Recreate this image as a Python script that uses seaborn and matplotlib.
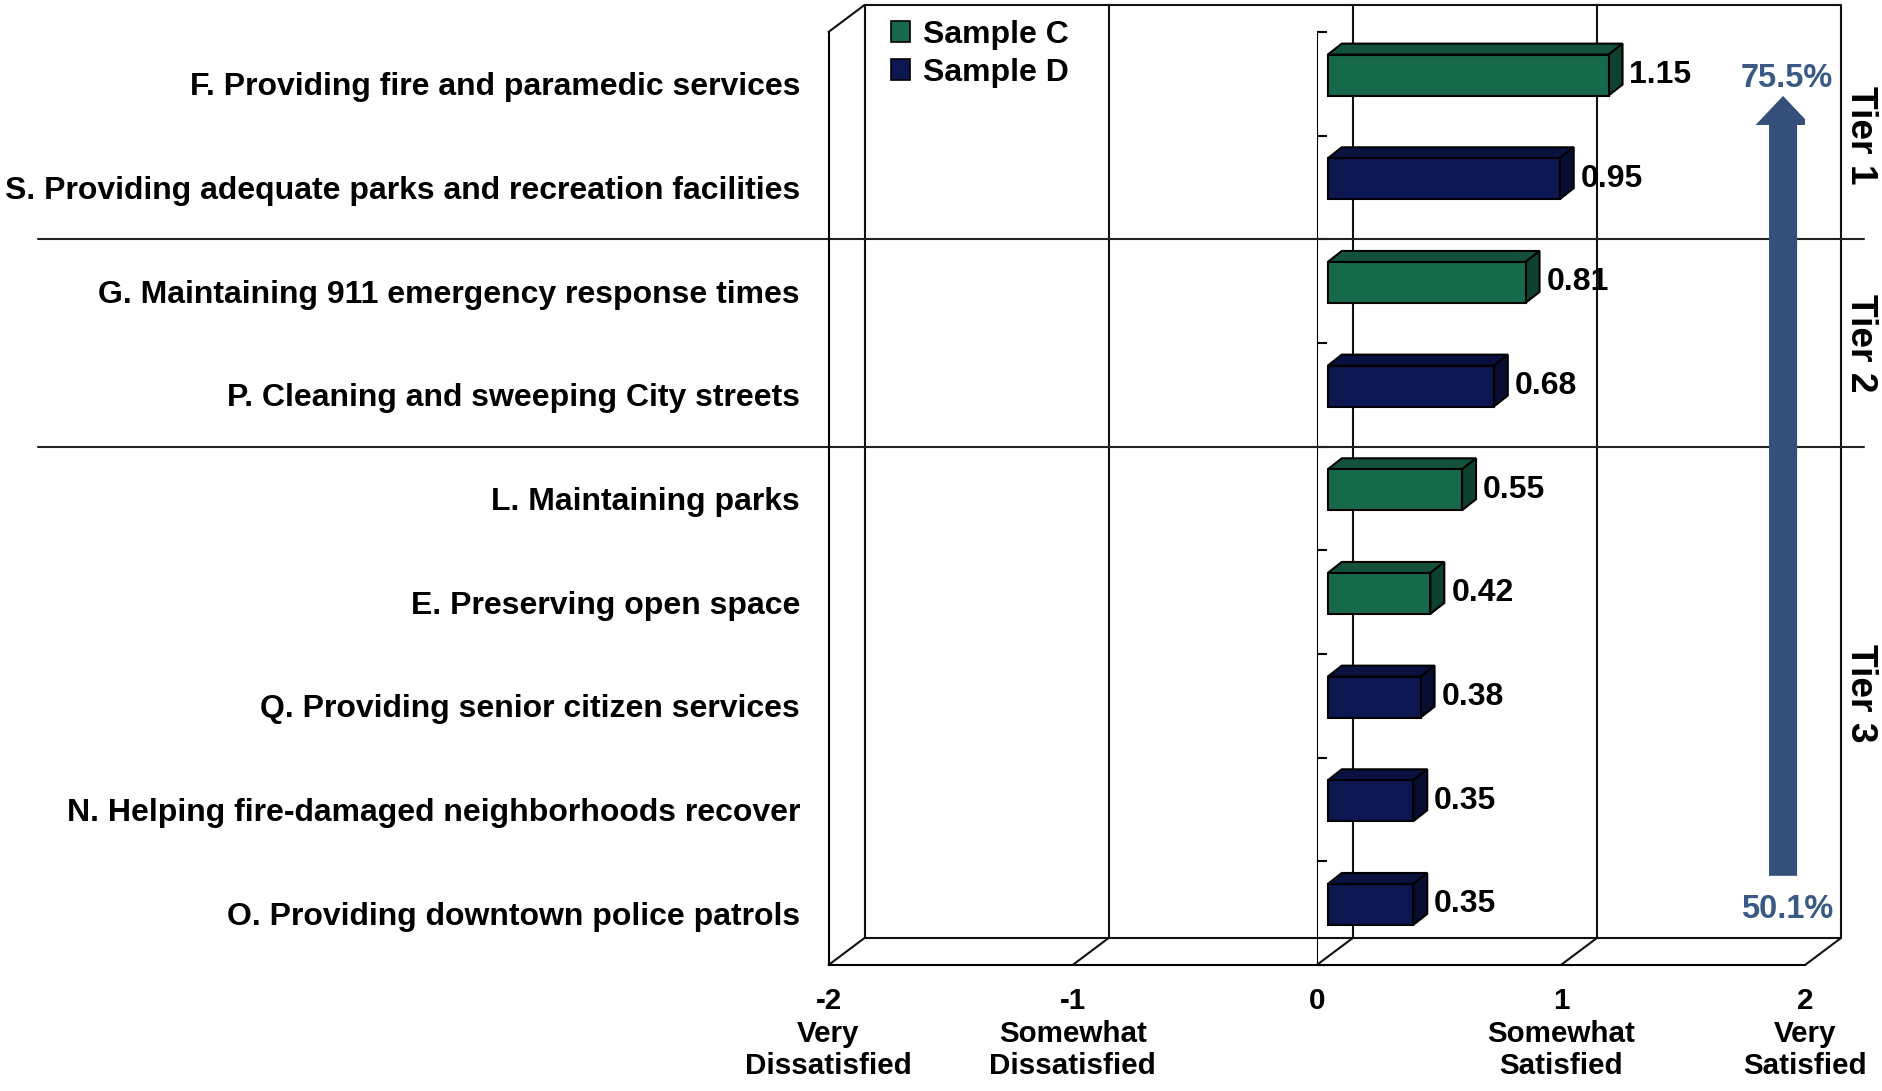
import numpy as np
import pandas as pd
import matplotlib
matplotlib.use("Agg")
import matplotlib.pyplot as plt
from matplotlib import transforms
from matplotlib.patches import Polygon, Patch, FancyArrow
import seaborn as sns

### Data
items = [
    "F. Providing fire and paramedic services",
    "S. Providing adequate parks and recreation facilities",
    "G. Maintaining 911 emergency response times",
    "P. Cleaning and sweeping City streets",
    "L. Maintaining parks",
    "E. Preserving open space",
    "Q. Providing senior citizen services",
    "N. Helping fire-damaged neighborhoods recover",
    "O. Providing downtown police patrols",
]
scores = [1.15, 0.95, 0.81, 0.68, 0.55, 0.42, 0.38, 0.35, 0.35]
samples = ["Sample C", "Sample D", "Sample C", "Sample D", "Sample C",
           "Sample C", "Sample D", "Sample D", "Sample D"]
tier_names = ["Tier 1", "Tier 2", "Tier 3"]
tier_centers = [0.5, 2.5, 5.88]
tier_breaks = [1.5, 3.5]
scale_ticks = [-2, -1, 0, 1, 2]
scale_labels = ["-2\nVery\nDissatisfied", "-1\nSomewhat\nDissatisfied", "0",
                "1\nSomewhat\nSatisfied", "2\nVery\nSatisfied"]
share_high = "75.5%"
share_low = "50.1%"

palette = {"Sample C": "#17694c", "Sample D": "#0c1650"}
arrow_color = "#34507a"
pct_color = "#3a5a85"

df = pd.DataFrame({"item": items, "score": scores, "sample": samples})

sns.set_style("white")
plt.rcParams["font.family"] = ["Liberation Sans", "DejaVu Sans"]
plt.rcParams["font.weight"] = "bold"
for key in ["text.color", "axes.labelcolor", "xtick.color", "ytick.color", "axes.edgecolor"]:
    plt.rcParams[key] = "black"
FS = 23
TICK_FS = 21.3

fig = plt.figure(figsize=(18.83, 10.91), dpi=100)
ax = fig.add_axes([0.440, 0.1155, 0.5186, 0.8552])
ax.set_facecolor("none")

sns.barplot(data=df, x="score", y="item", hue="sample", order=items,
            palette=palette, dodge=False, width=0.395, orient="h",
            saturation=1, edgecolor="black", linewidth=1.5, legend=False,
            ax=ax, zorder=4)
ax.set_xlim(-2, 2)
ax.set_ylim(8.5, -0.5)
ax.autoscale(False)
ax.set_xlabel("")
ax.set_ylabel("")

### pseudo-3D geometry (pixels)
wall_d = np.array([36, 27])
bar_off = np.array([11, 8.7])
bar_d = np.array([14, 11])
ident = transforms.IdentityTransform()
line_kw = dict(color="#111111", lw=1.5, transform=ident, clip_on=False, zorder=1)

x0, y0, x1, y1 = ax.bbox.x0, ax.bbox.y0, ax.bbox.x1, ax.bbox.y1
dx, dy = wall_d
# back wall
ax.plot([x0 + dx, x1 + dx, x1 + dx, x0 + dx, x0 + dx],
        [y0 + dy, y0 + dy, y1 + dy, y1 + dy, y0 + dy], **line_kw)
# left wall top edge
ax.plot([x0, x0 + dx], [y1, y1 + dy], **line_kw)
for v in scale_ticks:
    xv = ax.transData.transform((v, 0))[0]
    ax.plot([xv, xv + dx], [y0, y0 + dy], **line_kw)
    if v in (-1, 0, 1):
        ax.plot([xv + dx, xv + dx], [y0 + dy, y1 + dy], **line_kw)

### bars: shift front face, add top and side faces
shift = transforms.ScaledTranslation(bar_off[0] / fig.dpi, bar_off[1] / fig.dpi,
                                     fig.dpi_scale_trans)
for bar in list(ax.patches):
    if bar.get_width() == 0:
        continue
    bar.set_transform(ax.transData + shift)
    (px0, py0), (px1, py1) = ax.transData.transform(
        [(bar.get_x(), bar.get_y()), (bar.get_x() + bar.get_width(), bar.get_y() + bar.get_height())])
    left, right = min(px0, px1) + bar_off[0], max(px0, px1) + bar_off[0]
    bot, top = min(py0, py1) + bar_off[1], max(py0, py1) + bar_off[1]
    bx, by = bar_d
    rgb = np.array(matplotlib.colors.to_rgb(bar.get_facecolor()))
    top_face = Polygon([(left, top), (right, top), (right + bx, top + by), (left + bx, top + by)],
                       closed=True, facecolor=rgb * 0.78, edgecolor="black", lw=1.5,
                       transform=ident, clip_on=False, zorder=3)
    side_face = Polygon([(right, bot), (right + bx, bot + by), (right + bx, top + by), (right, top)],
                        closed=True, facecolor=rgb * 0.62, edgecolor="black", lw=1.5,
                        transform=ident, clip_on=False, zorder=3)
    ax.add_patch(top_face)
    ax.add_patch(side_face)

### value labels
for i, v in enumerate(scores):
    ax.annotate(f"{v:.2f}", xy=(v, i), xytext=(23, 6.3), textcoords="offset points",
                ha="left", va="center", fontsize=FS, fontweight="bold", zorder=6)

### axes styling
for side in ["top", "right"]:
    ax.spines[side].set_visible(False)
ax.spines["left"].set_linewidth(1.5)
ax.spines["bottom"].set_linewidth(1.5)
ax.set_yticks(range(len(items)))
ax.set_yticklabels(items, fontsize=FS, fontweight="bold")
ax.tick_params(axis="y", length=0, pad=20.5)
ax.set_xticks(scale_ticks)
ax.set_xticklabels(scale_labels, fontsize=TICK_FS, fontweight="bold", linespacing=1.2)
ax.tick_params(axis="x", direction="out", length=6, width=1.5, pad=10)

cat_axis = ax.secondary_yaxis(0.5)
cat_axis.set_yticks(np.arange(-0.5, len(items), 1.0))
cat_axis.set_yticklabels([])
cat_axis.tick_params(direction="out", length=7, width=1.5, color="black")
cat_axis.spines["left"].set_linewidth(1.5)
cat_axis.spines["left"].set_color("black")

### tier separators and labels
blend = transforms.blended_transform_factory(fig.transFigure, ax.transData)
for b in tier_breaks:
    ax.plot([0.020, 0.990], [b, b], color="#222222", lw=1.5, transform=blend,
            clip_on=False, zorder=2)
for name, c in zip(tier_names, tier_centers):
    ax.text(0.988, c, name, rotation=-90, ha="center", va="center", fontsize=26.7,
            fontweight="bold", transform=blend)

### trend arrow
ax.add_patch(FancyArrow(1.91, 7.64, 0, 0.117 - 7.64, width=0.115, head_width=0.225,
                        head_length=0.28, length_includes_head=True,
                        color=arrow_color, lw=0, zorder=5))
ax.text(1.925, -0.047, share_high, ha="center", va="center", color=pct_color,
        fontsize=23.5, fontweight="bold")
ax.text(1.925, 7.96, share_low, ha="center", va="center", color=pct_color,
        fontsize=23.5, fontweight="bold")

### legend
handles = [Patch(facecolor=palette[k], edgecolor="black", lw=1.2, label=k)
           for k in ["Sample C", "Sample D"]]
fig.legend(handles=handles, loc="upper left", bbox_to_anchor=(0.4732, 0.982),
           frameon=False, prop={"weight": "bold", "size": FS},
           handlelength=0.6, handleheight=0.6, handletextpad=0.4,
           labelspacing=0.25, borderpad=0, borderaxespad=0)

plt.savefig("out.png", dpi=100)
